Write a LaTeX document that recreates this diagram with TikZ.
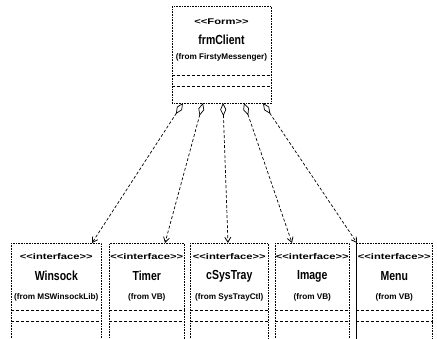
\documentclass[tikz,border=0pt]{standalone}
\usepackage{fontspec}
\setmainfont{Liberation Sans}[Ligatures=TeXOff]
\usetikzlibrary{arrows.meta,calc}
\newcommand{\wideText}[1]{\scalebox{1.35}[1]{#1}}
\newcommand{\tallText}[1]{\scalebox{1}[1.25]{#1}}
\begin{document}
\begin{tikzpicture}[x=1pt,y=-1pt,
  classbox/.style={draw, densely dotted, line width=0.6pt, inner sep=0pt, anchor=north west},
  divider/.style={densely dashed, line width=0.6pt},
  stereo/.style={font=\bfseries\fontsize{8.3}{9}\selectfont, inner sep=0pt},
  cname/.style={font=\bfseries\fontsize{10.5}{11}\selectfont, inner sep=0pt},
  origin/.style={font=\bfseries\fontsize{8.2}{9}\selectfont, inner sep=0pt},
  assoc/.style={densely dashed, line width=0.7pt,
    {Diamond[open,length=13pt,width=6pt,line width=0.7pt]}-{Straight Barb[length=5pt,width=6pt,line width=0.8pt]}}
]
\useasboundingbox (0,0) rectangle (437,338);
\clip (0,0) rectangle (437,338);

% top class
\node[classbox, minimum width=99pt, minimum height=97pt] (top) at (172,6) {};
\node[stereo] (topst) at (221.5,22) {\wideText{<<Form>>}};
\node[cname] (topnm) at (221.5,40) {\tallText{frmClient}};
\node[origin] (topfr) at (221.5,57) {(from FirstyMessenger)};
\draw[divider] ($(top.north west)+(0,69)$) -- ($(top.north east)+(0,69)$);
\draw[divider] ($(top.north west)+(0,80)$) -- ($(top.north east)+(0,80)$);

% bottom classes
\foreach \n/\l/\w/\nm/\fr in {w/11/90/Winsock/(from MSWinsockLib),
                               t/109/75/Timer/(from VB),
                               s/190/78/cSysTray/(from SysTrayCtl),
                               i/275/74/Image/(from VB),
                               m/356/76/Menu/(from VB)}{
  \node[classbox, minimum width=\w pt, minimum height=110pt] (\n) at (\l,243) {};
  \node[stereo] (\n st) at ($(\n.north)+(0,14)$) {\wideText{<<interface>>}};
  \node[cname] (\n nm) at ($(\n.north)+(0,33)$) {\tallText{\nm}};
  \node[origin] (\n fr) at ($(\n.north)+(0,54)$) {\fr};
  \draw[divider] ($(\n.north west)+(0,67)$) -- ($(\n.north east)+(0,67)$);
  \draw[divider] ($(\n.north west)+(0,78)$) -- ($(\n.north east)+(0,78)$);
}
\draw[line width=0.8pt] (m.north west) -- (m.south west);

% association ends
\coordinate (d1) at (183,103); \coordinate (e1) at (92,243);
\coordinate (d2) at (203,103); \coordinate (e2) at (165,243);
\coordinate (d3) at (223,103); \coordinate (e3) at (228,243);
\coordinate (d4) at (244,103); \coordinate (e4) at (292,243);
\coordinate (d5) at (263,103); \coordinate (e5) at (357,243);

\draw[assoc] (d1) -- (e1);
\draw[assoc] (d2) -- (e2);
\draw[assoc] (d3) -- (e3);
\draw[assoc] (d4) -- (e4);
\draw[assoc] (d5) -- (e5);
\end{tikzpicture}
\end{document}
